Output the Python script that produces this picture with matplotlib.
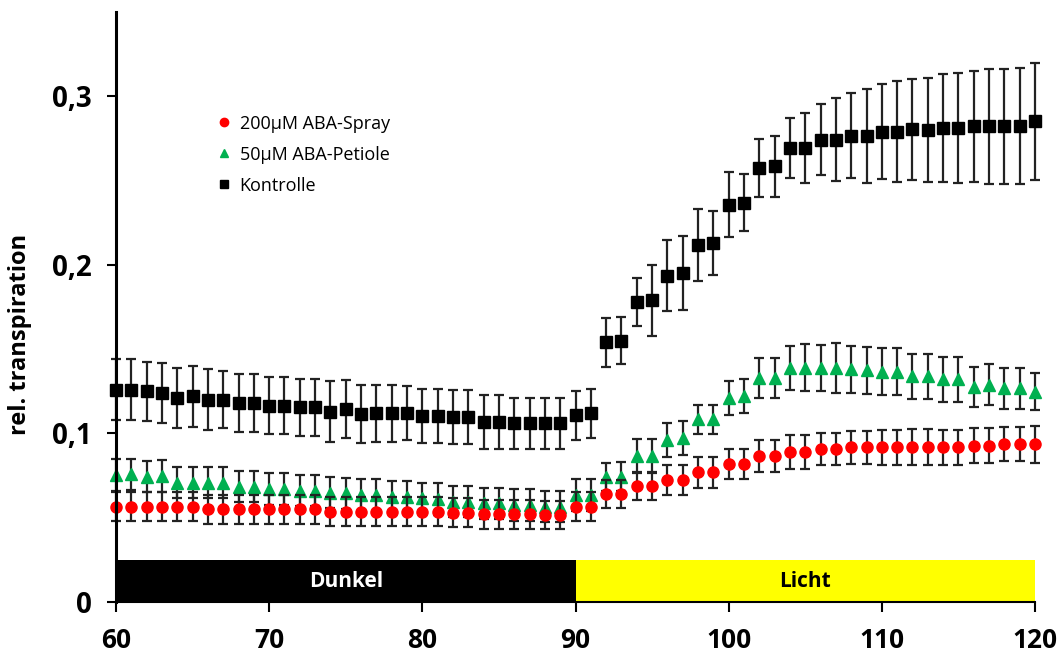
import matplotlib
matplotlib.use("Agg")
from matplotlib import pyplot as plt
from matplotlib.lines import Line2D
from matplotlib.ticker import FuncFormatter

plt.rcParams['font.family'] = ['Open Sans', 'DejaVu Sans']

# Zeit (x-Achse)
zeit = list(range(60, 121))

# Kontrolle
kontrolle = [0.126, 0.126, 0.125, 0.124, 0.121, 0.122, 0.120, 0.120, 0.118, 0.118,
             0.1165, 0.1165, 0.1155, 0.1155, 0.113, 0.1144, 0.1115, 0.112, 0.112, 0.112,
             0.1105, 0.1105, 0.1095, 0.1095, 0.107, 0.107, 0.106, 0.106, 0.106, 0.106,
             0.1107, 0.112, 0.154, 0.155, 0.178, 0.179, 0.1935, 0.195, 0.2117, 0.213,
             0.2358, 0.2368, 0.2575, 0.2585, 0.2693, 0.2693, 0.2743, 0.2743, 0.2767, 0.2765,
             0.2791, 0.2791, 0.2804, 0.280, 0.2812, 0.2812, 0.2822, 0.2822, 0.2822, 0.2822,
             0.2852]
kontrolle_err = [0.018, 0.018, 0.0176, 0.018, 0.018, 0.018, 0.018, 0.017, 0.017, 0.017,
                 0.017, 0.017, 0.017, 0.017, 0.018, 0.017, 0.017, 0.017, 0.017, 0.016,
                 0.016, 0.016, 0.016, 0.016, 0.016, 0.016, 0.015, 0.015, 0.015, 0.015,
                 0.0145, 0.0145, 0.0143, 0.014, 0.0141, 0.021, 0.021, 0.022, 0.0215, 0.019,
                 0.0193, 0.017, 0.017, 0.018, 0.018, 0.021, 0.021, 0.0246, 0.025, 0.028,
                 0.028, 0.030, 0.030, 0.031, 0.032, 0.0325, 0.033, 0.034, 0.034, 0.0345,
                 0.0346]

# 50µM ABA-Petiole
petiole = [0.0753, 0.0757, 0.0743, 0.0747, 0.0708, 0.0708, 0.0708, 0.0708, 0.0684, 0.0684,
           0.067, 0.067, 0.066, 0.066, 0.0648, 0.0645, 0.0634, 0.0634, 0.0624, 0.0624,
           0.0615, 0.061, 0.0595, 0.0595, 0.0585, 0.0585, 0.0575, 0.0575, 0.0565, 0.0565,
           0.0634, 0.0634, 0.0743, 0.0743, 0.0866, 0.0866, 0.096, 0.0974, 0.1083, 0.1083,
           0.1211, 0.1221, 0.133, 0.133, 0.1389, 0.1389, 0.1389, 0.1389, 0.138, 0.1375,
           0.1366, 0.1366, 0.134, 0.134, 0.132, 0.132, 0.1277, 0.129, 0.1267, 0.1267,
           0.1247]
petiole_err = [0.0093, 0.0093, 0.0093, 0.0093, 0.0093, 0.0093, 0.0093, 0.0093, 0.0093, 0.0093,
               0.0093, 0.0093, 0.0093, 0.0093, 0.0093, 0.0093, 0.0093, 0.0093, 0.0093, 0.0093,
               0.0093, 0.0093, 0.0093, 0.0093, 0.0093, 0.0093, 0.0093, 0.0093, 0.0093, 0.0093,
               0.0093, 0.0093, 0.0083, 0.0085, 0.010, 0.010, 0.010, 0.010, 0.0087, 0.0087,
               0.010, 0.010, 0.012, 0.012, 0.013, 0.014, 0.0135, 0.015, 0.014, 0.014,
               0.014, 0.014, 0.0134, 0.0134, 0.0134, 0.0134, 0.012, 0.012, 0.012, 0.012,
               0.011]

# 200µM ABA-Spray
spray = [0.0565, 0.0565, 0.0565, 0.0565, 0.0565, 0.0565, 0.055, 0.055, 0.055, 0.055,
         0.055, 0.055, 0.055, 0.055, 0.0536, 0.0536, 0.0536, 0.0536, 0.0536, 0.0536,
         0.0536, 0.0536, 0.053, 0.053, 0.052, 0.052, 0.052, 0.052, 0.0516, 0.0516,
         0.0565, 0.0565, 0.064, 0.064, 0.0688, 0.0688, 0.0723, 0.0723, 0.0769, 0.0769,
         0.0818, 0.0818, 0.0867, 0.0867, 0.0891, 0.0891, 0.0905, 0.0905, 0.0917, 0.0917,
         0.0917, 0.0917, 0.0917, 0.0917, 0.0917, 0.0917, 0.0927, 0.0927, 0.0937, 0.0937,
         0.0937]
spray_err = [0.0085] * 30 + [0.0085, 0.0085, 0.0083, 0.0083, 0.0085, 0.0085, 0.0088, 0.0088, 0.009, 0.009,
             0.009, 0.009, 0.0095, 0.0095, 0.010, 0.010, 0.0095, 0.0095, 0.010, 0.010,
             0.0105, 0.0105, 0.0107, 0.0107, 0.0105, 0.0105, 0.0103, 0.0103, 0.0103, 0.0103,
             0.011]

phasen = ["Dunkel", "Licht"]
phasen_start = [60, 90]
phasen_farben = ["black", "#FFFF00"]
phasen_textfarben = ["white", "black"]


fig = plt.figure(figsize=(10.64, 6.57), dpi=100)
ax = fig.add_axes([116/1064, 1-602/657, 919/1064, 590/657])

# Balken Dunkel / Licht
ax.bar(phasen_start, [0.025, 0.025], width=30, align='edge', color=phasen_farben, zorder=1)
for start, name, tc in zip(phasen_start, phasen, phasen_textfarben):
    ax.text(start + 15, 0.0122, name, color=tc, ha='center', va='center',
            fontsize=15, fontweight='bold', zorder=2)

ecol = '#222222'
ax.errorbar(zeit, kontrolle, yerr=kontrolle_err, fmt='s', color='black', ms=8,
            ecolor=ecol, elinewidth=1.6, capsize=3.7, capthick=1.6, clip_on=False, zorder=3)
ax.errorbar(zeit, petiole, yerr=petiole_err, fmt='^', color='#00B050', ms=8,
            ecolor=ecol, elinewidth=1.6, capsize=3.7, capthick=1.6, clip_on=False, zorder=4)
ax.errorbar(zeit, spray, yerr=spray_err, fmt='o', color='#FF0000', ms=8,
            ecolor=ecol, elinewidth=1.6, capsize=3.7, capthick=1.6, clip_on=False, zorder=5)

ax.set_xlim(60, 120)
ax.set_ylim(0, 0.35)
ax.set_xticks([60, 70, 80, 90, 100, 110, 120])
ax.set_yticks([0, 0.1, 0.2, 0.3])
ax.yaxis.set_major_formatter(FuncFormatter(lambda v, p: '0' if v == 0 else ('%.1f' % v).replace('.', ',')))

for s in ['top', 'right']:
    ax.spines[s].set_visible(False)
ax.spines['left'].set_linewidth(2.2)
ax.spines['bottom'].set_linewidth(1.5)
ax.spines['left'].set_zorder(6)

ax.tick_params(axis='y', direction='out', length=6.5, width=1.5, pad=11, labelsize=20)
ax.tick_params(axis='x', direction='out', length=7, width=1.5, pad=11, labelsize=19)
for lab in ax.get_xticklabels() + ax.get_yticklabels():
    lab.set_fontweight('bold')

fig.text(20/1064, 1-334/657, "rel. transpiration", rotation=90, ha='center', va='center',
         fontsize=17, fontweight='bold')

handles = [
    Line2D([], [], ls='none', marker='o', color='#FF0000', ms=6),
    Line2D([], [], ls='none', marker='^', color='#00B050', ms=6),
    Line2D([], [], ls='none', marker='s', color='black', ms=6),
]
labels = ["200µM ABA-Spray", "50µM ABA-Petiole", "Kontrolle"]
ax.legend(handles, labels, loc='upper left', bbox_to_anchor=(0.108, 0.826), frameon=False,
          borderaxespad=0, borderpad=0, handlelength=1.0, handletextpad=0.35,
          labelspacing=0.72, fontsize=13)

fig.savefig("out.png", dpi=100)
